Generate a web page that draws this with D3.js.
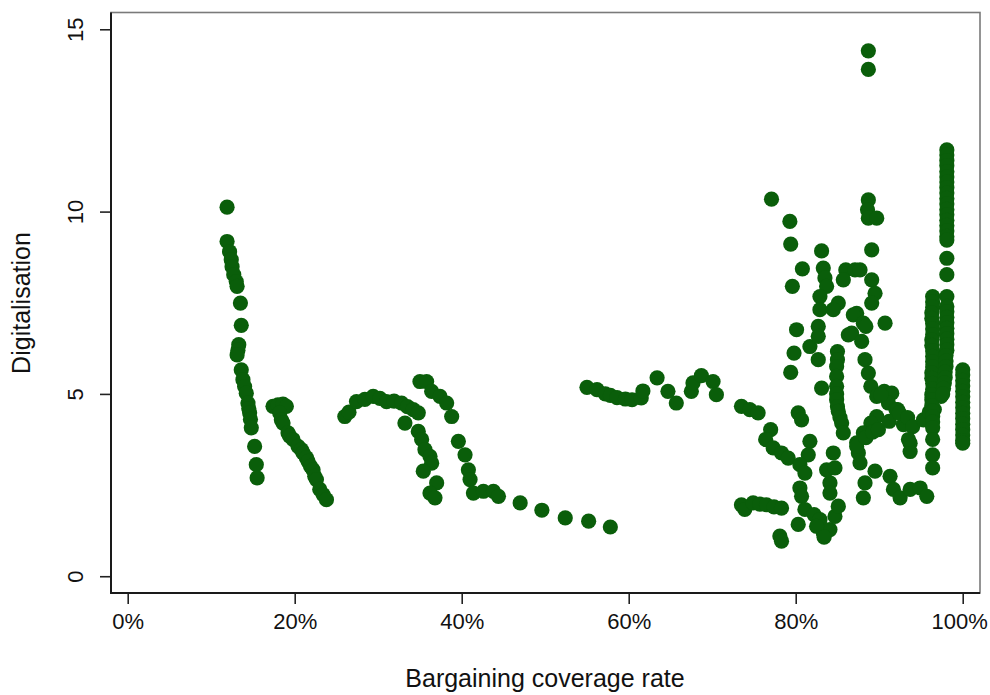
<!DOCTYPE html>
<html>
<head>
<meta charset="utf-8">
<script src="https://cdn.jsdelivr.net/npm/d3@7"></script>
<style>
  html, body { margin: 0; padding: 0; background: #fff; }
  svg { display: block; }
  text { font-family: "Liberation Sans", Arial, Helvetica, sans-serif; fill: #111; }
</style>
</head>
<body>
<svg id="chart" width="990" height="695"></svg>
<script>
// Bargaining coverage rate (%) vs. digitalisation index, one dot per observation.
// Points are grouped by the visible runs of observations.
const runLowCoverage = [
  [11.9,10.12],[11.9,9.18],[12.2,8.9],[12.4,8.68],[12.5,8.49],[12.7,8.27],[13.0,8.08],[13.1,7.95],
  [13.5,7.49],[13.6,6.88],[13.3,6.35],[13.2,6.2],[13.1,6.07],[13.6,5.66],[13.8,5.39],[14.0,5.2],
  [14.2,5.02],[14.4,4.75],[14.5,4.6],[14.6,4.48],[14.7,4.3],[14.8,4.07],[15.2,3.56],[15.4,3.06],[15.5,2.70]
];
const runTwenty = [
  [17.4,4.66],[18.0,4.70],[18.6,4.72],[19.0,4.66],[18.2,4.48],[18.4,4.29],[18.6,4.20],[19.2,3.93],
  [19.4,3.84],[19.8,3.75],[20.4,3.56],[20.8,3.47],[21.0,3.38],[21.4,3.25],[21.6,3.15],[21.9,3.01],
  [22.2,2.92],[22.4,2.74],[22.6,2.65],[23.0,2.38],[23.4,2.24],[23.8,2.10]
];
const runThirty = [
  [26.0,4.38],[26.5,4.50],[27.4,4.79],[28.4,4.85],[29.4,4.93],[30.2,4.88],[31.0,4.79],[31.9,4.80],
  [32.8,4.75],[33.5,4.65],[34.2,4.57],[34.8,4.48],[33.2,4.20]
];
const runForty = [
  [35.0,5.34],[35.8,5.34],[36.4,5.07],[37.4,4.93],[38.2,4.75],[38.8,4.38],
  [34.8,3.97],[35.2,3.75],[35.6,3.47],[36.2,3.29],[36.4,3.10],[35.4,2.88],[37.0,2.56],[36.2,2.28],[36.8,2.15],
  [39.6,3.70],[40.4,3.33],[40.8,2.92],[41.0,2.65],[41.4,2.28],[42.6,2.33],[43.8,2.33],[44.4,2.19],
  [47.0,2.01],[49.6,1.81],[52.4,1.60],[55.2,1.51],[57.8,1.35]
];
const runSixty = [
  [55.0,5.18],[56.2,5.12],[57.2,5.00],[57.8,4.96],[58.6,4.90],[59.6,4.86],[60.4,4.84],[61.5,4.89],
  [61.7,5.08],[63.4,5.44],[64.7,5.07],[65.7,4.75],[67.5,5.07],[67.7,5.30],[68.7,5.50],[70.1,5.34],
  [70.5,4.98],[73.5,4.66],[74.5,4.57],[75.5,4.48]
];
const runEighty = [
  [77.1,10.34],[79.3,9.73],[79.4,9.11],[80.8,8.43],[79.6,7.95],[80.1,6.76],[79.8,6.12],[79.4,5.59],[81.7,6.30],
  [80.3,4.48],[80.7,4.29],[77.0,4.02],[76.4,3.75],[77.3,3.52],[78.3,3.38],[79.1,3.24],[81.7,3.70],[81.5,3.33],
  [80.5,3.06],[81.1,2.83],[80.5,2.42],[80.7,2.19],[81.1,1.83],[80.3,1.42],[78.1,1.10],[78.3,0.96],
  [73.5,1.96],[73.9,1.83],[74.9,2.01],[75.7,1.98],[76.5,1.96],[77.4,1.90],[78.3,1.87]
];
const runEightyFive = [
  [83.1,8.92],[83.3,8.45],[83.5,8.18],[83.7,7.95],[82.9,7.67],[85.1,7.49],[82.9,7.31],[84.5,7.31],
  [82.7,6.85],[82.7,6.58],[82.7,5.94],[83.1,5.16],
  [85.0,6.16],[85.0,5.94],[84.9,5.75],[84.9,5.48],[84.9,5.21],[84.9,5.00],[84.9,4.84],[85.0,4.65],
  [85.1,4.52],[85.3,4.35],[85.5,4.20],[85.7,3.93],
  [84.5,3.38],[83.7,2.92],[84.7,2.97],[84.1,2.56],[84.1,2.28],[82.2,1.69],[82.9,1.55],[83.3,1.19],
  [84.1,1.28],[84.7,1.64],[85.1,1.92],[82.5,1.37],[83.4,1.07]
];
const runNinety = [
  [88.7,14.41],[88.7,13.90],[88.7,10.32],[88.6,10.05],[88.7,9.82],[89.7,9.82],[89.1,8.95],[86.0,8.40],
  [85.7,8.13],[87.1,8.40],[87.7,8.40],[89.1,8.13],[89.5,7.76],[89.1,7.49],[87.3,7.21],[86.9,7.17],
  [88.1,6.94],[88.4,6.85],[90.7,6.94],[86.3,6.62],[86.7,6.67],[87.9,6.44],[88.3,5.94],[88.7,5.57],
  [89.0,5.21],[90.6,5.07],[89.7,4.93],[91.5,5.02],[91.1,4.75],[92.0,4.57],[89.7,4.38],[89.0,4.20],
  [88.1,3.93],[87.3,3.66],[87.5,3.38],[87.7,3.11],[88.3,2.56],[88.1,2.15],[89.5,2.88],[91.3,2.74],
  [91.7,2.38],[92.5,2.15],[93.7,2.38],[94.9,2.42],[95.7,2.19],
  [90.2,4.98],[92.2,4.57],[92.9,4.16],[93.7,3.65],[93.7,3.42],[87.3,3.56],[88.4,3.80],[89.2,3.95],
  [89.9,4.02],[91.2,4.25],[92.4,4.48],[93.4,4.35],[94.0,4.10],[93.5,3.75],[95.3,4.29],[96.0,4.50],
  [96.6,4.57],[97.4,4.93]
];
// Near-vertical runs at high coverage
const runStripeA = [
  [96.4,7.67],[96.4,7.52],[96.4,7.38],[96.3,7.22],[96.3,7.07],[96.4,6.93],[96.4,6.78],[96.4,6.62],
  [96.3,6.48],[96.3,6.33],[96.4,6.18],[96.4,6.03],[96.4,5.88],[96.4,5.74],[96.3,5.58],[96.3,5.43],
  [96.4,5.29],[96.4,5.13],[96.3,4.98],[96.3,4.84],[96.3,4.68],[96.4,4.53],[96.4,4.38],[96.4,4.23],
  [96.4,4.07],[96.4,3.75],[96.4,3.33],[96.4,2.97]
];
const runStripeB = [
  [98.1,11.69],[98.1,11.55],[98.1,11.40],[98.1,11.26],[98.1,11.10],[98.1,10.95],[98.1,10.81],[98.1,10.66],
  [98.1,10.51],[98.1,10.36],[98.1,10.21],[98.1,10.06],[98.1,9.91],[98.1,9.76],[98.1,9.62],[98.1,9.47],
  [98.1,9.32],[98.1,9.22],[98.1,8.72],[98.1,8.27],[98.1,7.67],
  [98.1,7.40],[98.1,7.25],[98.1,7.10],[98.1,6.95],[98.1,6.80],[98.1,6.65],[98.1,6.50],[98.1,6.35],
  [98.1,6.20],[98.0,6.05],[98.0,5.90],[98.0,5.75],[97.9,5.60],[97.9,5.45],[97.8,5.30],[97.7,5.15],[97.6,5.00]
];
const runStripeC = [
  [100.0,5.66],[100.0,5.52],[100.0,5.37],[100.0,5.22],[100.0,5.07],[100.0,4.92],[100.0,4.77],[100.0,4.62],
  [100.0,4.47],[100.0,4.32],[100.0,4.17],[100.0,4.02],[100.0,3.87],[100.0,3.72],[100.0,3.65]
];

const xTickValues = [0, 20, 40, 60, 80, 100];
const xTickLabels = ["0%", "20%", "40%", "60%", "80%", "100%"];
const yTickValues = [0, 5, 10, 15];
const yTickLabels = ["0", "5", "10", "15"];

const points = [].concat(runLowCoverage, runTwenty, runThirty, runForty, runSixty,
  runEighty, runEightyFive, runNinety, runStripeA, runStripeB, runStripeC);

const plot = { left: 111, right: 980, top: 12.5, bottom: 593 };
const svg = d3.select("#chart");

const x = d3.scaleLinear().domain([-2, 102.07]).range([plot.left, plot.right]);
const y = d3.scaleLinear().domain([-0.46, 15.46]).range([plot.bottom, plot.top]);

// plot region outline
svg.append("rect")
  .attr("x", plot.left).attr("y", plot.top)
  .attr("width", plot.right - plot.left).attr("height", plot.bottom - plot.top)
  .attr("fill", "none").attr("stroke", "#7a7a7a").attr("stroke-width", 1.6);

// markers
svg.append("g")
  .selectAll("circle")
  .data(points)
  .join("circle")
  .attr("cx", d => x(d[0]))
  .attr("cy", d => y(d[1]))
  .attr("r", 7.6)
  .attr("fill", "#0a5e0a");

// y axis
const yAxis = svg.append("g")
  .attr("transform", `translate(${plot.left},0)`)
  .call(d3.axisLeft(y).tickValues(yTickValues).tickFormat((d, i) => yTickLabels[i]).tickSize(11).tickSizeOuter(0));
yAxis.select(".domain").remove();
yAxis.selectAll(".tick line").attr("stroke", "#222").attr("stroke-width", 1.6);
yAxis.selectAll(".tick text")
  .attr("x", null).attr("dy", null)
  .attr("text-anchor", "middle")
  .attr("transform", "translate(-28,0) rotate(-90)")
  .style("font-size", "22px")
  .style("font-family", "'Liberation Sans', Arial, sans-serif")
  .attr("fill", "#111");

// x axis
const xAxis = svg.append("g")
  .attr("transform", `translate(0,${plot.bottom})`)
  .call(d3.axisBottom(x).tickValues(xTickValues).tickFormat((d, i) => xTickLabels[i]).tickSize(11).tickSizeOuter(0));
xAxis.select(".domain").remove();
xAxis.selectAll(".tick line").attr("stroke", "#222").attr("stroke-width", 1.6);
xAxis.selectAll(".tick text")
  .attr("y", 36).attr("dy", null)
  .attr("dx", (d, i, nodes) => i === nodes.length - 1 ? -3.5 : null)
  .style("font-size", "22px")
  .style("font-family", "'Liberation Sans', Arial, sans-serif")
  .attr("fill", "#111");

// axis lines drawn over the outline
svg.append("line")
  .attr("x1", plot.left).attr("x2", plot.left)
  .attr("y1", plot.top).attr("y2", plot.bottom + 0.8)
  .attr("stroke", "#1a1a1a").attr("stroke-width", 2);
svg.append("line")
  .attr("x1", plot.left - 0.8).attr("x2", plot.right)
  .attr("y1", plot.bottom).attr("y2", plot.bottom)
  .attr("stroke", "#1a1a1a").attr("stroke-width", 2);

// axis titles
svg.append("text")
  .attr("transform", `translate(30,303) rotate(-90)`)
  .attr("text-anchor", "middle")
  .style("font-size", "25px")
  .text("Digitalisation");

svg.append("text")
  .attr("x", 545).attr("y", 687)
  .attr("text-anchor", "middle")
  .style("font-size", "25px")
  .text("Bargaining coverage rate");
</script>
</body>
</html>
